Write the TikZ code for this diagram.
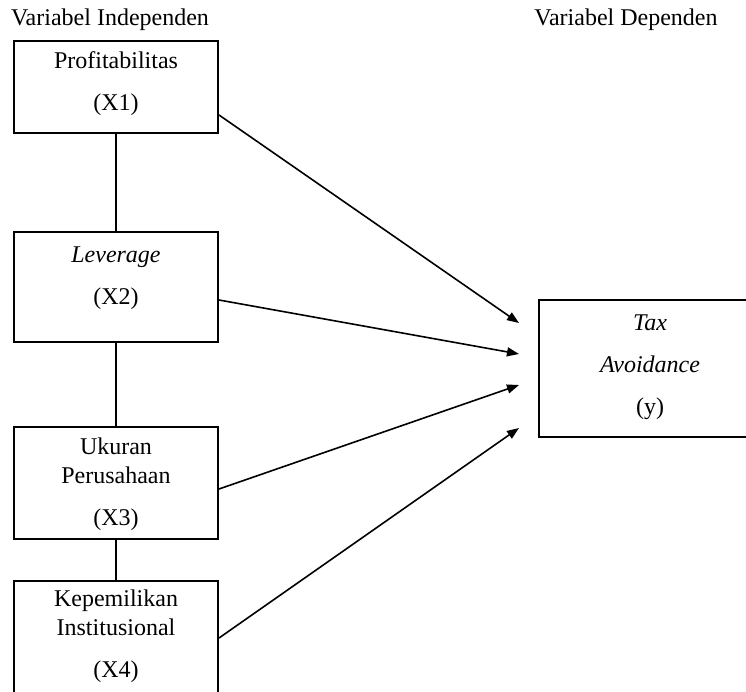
\documentclass[tikz,border=0pt]{standalone}
\usepackage{fontspec}
\setmainfont{Liberation Serif}
\usetikzlibrary{arrows.meta}

\begin{document}
\begin{tikzpicture}[x=0.5pt, y=-0.5pt,
    box/.style={draw, line width=1pt, inner sep=0pt, minimum width=102pt},
    txt/.style={align=center, inner sep=0pt, font=\fontsize{12}{21}\selectfont},
    link/.style={line width=1pt},
    arr/.style={-{Triangle[length=6pt, width=4.5pt]}, line width=0.8pt}
]
\useasboundingbox (0,0) rectangle (746,692);

\node[txt] (hind) at (110,20) {Variabel Independen};
\node[txt] (hdep) at (626,20) {Variabel Dependen};

\node[box, minimum height=46pt] (x1) at (116,87) {};
\node[box, minimum height=55pt] (x2) at (116,287) {};
\node[box, minimum height=56pt] (x3) at (116,483) {};
\node[box, minimum height=60pt] (x4) at (116,640.5) {};
\node[box, minimum width=110.5pt, minimum height=68.5pt] (tax) at (649.5,368.5) {};

\node[txt] (t1) at (116,84) {Profitabilitas\\(X1)};
\node[txt] (t2) at (116,278) {\textit{Leverage}\\(X2)};
\node[txt] (t3) at (116,484.5) {Ukuran\\[-6.5pt]Perusahaan\\(X3)};
\node[txt] (t4) at (116,636) {Kepemilikan\\[-6.5pt]Institusional\\(X4)};
\node[txt] (ty) at (650,367) {\textit{Tax}\\\textit{Avoidance}\\(y)};

\coordinate (in1) at (519,323);
\coordinate (in2) at (519,354);
\coordinate (in3) at (519,385);
\coordinate (in4) at (519,428);

\draw[link] (x1.south) -- (x2.north);
\draw[link] (x2.south) -- (x3.north);
\draw[link] (x3.south) -- (x4.north);

\draw[arr] ([yshift=-14pt]x1.east) -- (in1);
\draw[arr] ([yshift=-6.5pt]x2.east) -- (in2);
\draw[arr] ([yshift=-3pt]x3.east) -- (in3);
\draw[arr] ([yshift=1.25pt]x4.east) -- (in4);
\end{tikzpicture}
\end{document}
